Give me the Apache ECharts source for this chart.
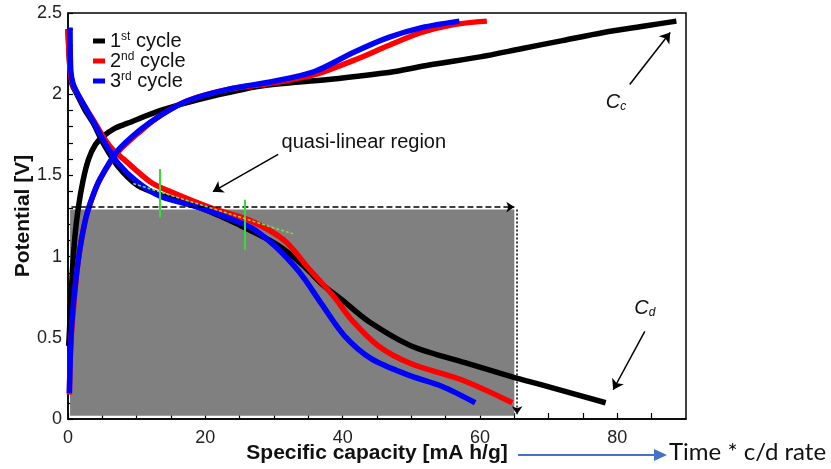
<!DOCTYPE html>
<html><head><meta charset="utf-8">
<script src="https://cdn.jsdelivr.net/npm/echarts@6/dist/echarts.min.js"></script>
<style>html,body{margin:0;padding:0;background:#fff}#c{width:831px;height:469px}</style>
</head><body><div id="c"></div>
<script>
const cycleNames = ['1st cycle', '2nd cycle', '3rd cycle'];
const cycleColors = ['#000000', '#ff0000', '#0000ff'];
const xTickLabels = [0, 20, 40, 60, 80];
const yTickLabels = [0, 0.5, 1, 1.5, 2, 2.5];

const cycle1Charge = [[0.1,0.45],[0.3,0.62],[0.6,0.88],[1.0,1.12],[1.5,1.3],[2.2,1.47],[3.0,1.6],[4.0,1.69],[5.1,1.74],[6.8,1.79],[8.6,1.82],[13.5,1.9],[19.3,1.97],[28.1,2.05],[37.9,2.09],[47.6,2.14],[52.6,2.18],[60,2.23],[66,2.28],[72,2.33],[78,2.38],[84,2.42],[88.6,2.45]];
const cycle1Discharge = [[0,2.4],[0.3,2.15],[0.6,2.06],[1.3,2.0],[2.5,1.9],[3.7,1.82],[5.1,1.7],[7.2,1.56],[10.1,1.44],[13.5,1.38],[19.3,1.3],[24.7,1.2],[30.6,1.07],[34.4,0.94],[37,0.83],[40,0.73],[43.8,0.6],[50,0.45],[58.4,0.34],[64.7,0.26],[69,0.21],[78.3,0.1]];
const cycle2Charge = [[0.2,0.15],[0.4,0.46],[0.8,0.68],[1.5,0.98],[2.5,1.22],[3.5,1.36],[4.7,1.48],[7.2,1.64],[10.5,1.77],[13.5,1.87],[17.4,1.96],[23.3,2.03],[30,2.07],[35.9,2.12],[41.7,2.21],[46.7,2.3],[51.5,2.38],[56.4,2.43],[61,2.45]];
const cycle2Discharge = [[0,2.4],[0.3,2.15],[0.6,2.07],[1.3,2.01],[2.5,1.92],[3.7,1.84],[5.1,1.74],[6.5,1.66],[8.1,1.6],[12,1.46],[14.9,1.4],[20.8,1.3],[26.6,1.22],[31.5,1.1],[35,0.93],[38.8,0.75],[41.3,0.61],[45.2,0.45],[50,0.34],[57.4,0.24],[64.7,0.1]];
const cycle3Charge = [[0.2,0.16],[0.4,0.46],[0.7,0.67],[1.5,0.98],[2.5,1.22],[3.5,1.36],[4.7,1.48],[7.2,1.65],[10.5,1.78],[13.5,1.87],[17.4,1.96],[23.3,2.03],[30,2.08],[35.9,2.14],[41.7,2.26],[46.7,2.35],[51.5,2.41],[57,2.45]];
const cycle3Discharge = [[0.3,2.41],[0.4,2.15],[0.7,2.07],[1.3,2.01],[2.5,1.92],[3.7,1.83],[5.1,1.72],[7.2,1.58],[10.1,1.46],[13.5,1.37],[19.3,1.3],[26.6,1.18],[30,1.07],[33,0.94],[34.5,0.86],[36.9,0.71],[40.3,0.51],[44.2,0.37],[49.6,0.27],[54.5,0.2],[59.3,0.1]];

const cycleData = [[cycle1Charge, cycle1Discharge],[cycle2Charge, cycle2Discharge],[cycle3Charge, cycle3Discharge]];

const chart = echarts.init(document.getElementById('c'), null, {renderer: 'canvas'});
const FONT = 'Liberation Sans, Arial, sans-serif';

const series = [];
series.push({
  type: 'line', name: 'bg', data: [], z: 1, silent: true,
  markArea: {
    silent: true,
    itemStyle: {color: '#808080'},
    data: [[{coord: [0.3, 0.02]}, {coord: [65, 1.29]}]]
  },
  markLine: {
    silent: true, symbol: ['none', 'arrow'], symbolSize: 8,
    label: {show: false},
    data: [
      [{coord: [0.5, 1.305]}, {coord: [65, 1.305], lineStyle: {type: [6, 3], color: '#000', width: 1.5}}],
      [{coord: [65.4, 1.29]}, {coord: [65.4, 0.03], lineStyle: {type: [2, 2], color: '#000', width: 1.5}}]
    ]
  }
});
cycleData.forEach((pair, i) => {
  pair.forEach(d => {
    series.push({
      type: 'line', name: cycleNames[i], data: d, smooth: 0.3, showSymbol: false, z: 2,
      lineStyle: {color: cycleColors[i], width: 5.5},
      itemStyle: {color: cycleColors[i]}
    });
  });
});
const subRich = () => ({
  i: {fontStyle: 'italic', fontSize: 20, fontFamily: FONT, color: '#111'},
  s: {fontStyle: 'italic', fontSize: 12, fontFamily: FONT, color: '#111', verticalAlign: 'bottom', padding: [9, 0, 0, 0]}
});
series.push({
  type: 'line', name: 'fg', data: [], z: 4, silent: true,
  markLine: {
    silent: true, symbol: ['none', 'arrow'], symbolSize: 10,
    label: {show: false},
    lineStyle: {color: '#000', width: 1.5, type: 'solid'},
    data: [
      [{coord: [30.6, 1.63]}, {coord: [21.1, 1.40]}],
      [{coord: [81.8, 2.06]}, {coord: [87.7, 2.38]}],
      [{coord: [84.0, 0.54]}, {coord: [79.4, 0.18]}]
    ]
  },
  markPoint: {
    silent: true, symbol: 'circle', symbolSize: 0,
    data: [
      {coord: [31.1, 1.70], label: {show: true, position: 'right', distance: 0, formatter: 'quasi-linear region', fontSize: 20, color: '#111', fontFamily: FONT}},
      {coord: [79.8, 1.95], label: {show: true, position: 'inside', formatter: '{i|C}{s|c}', rich: subRich()}},
      {coord: [84.0, 0.68], label: {show: true, position: 'inside', formatter: '{i|C}{s|d}', rich: subRich()}}
    ]
  }
});
series.push({
  type: 'line', name: 'green', data: [], z: 5, silent: true,
  markLine: {
    silent: true, symbol: 'none',
    label: {show: false},
    data: [
      [{coord: [13.3, 1.54]}, {coord: [13.3, 1.24], lineStyle: {color: '#33dd33', width: 2, type: 'solid'}}],
      [{coord: [25.8, 1.35]}, {coord: [25.8, 1.04], lineStyle: {color: '#33dd33', width: 2, type: 'solid'}}],
      [{coord: [9.5, 1.45]}, {coord: [32.8, 1.14], lineStyle: {color: '#77dd44', width: 1.5, type: [3, 2]}}]
    ]
  }
});

const isTick = (arr, v) => arr.some(t => Math.abs(t - v) < 1e-6);

chart.setOption({
  animation: false,
  backgroundColor: '#fff',
  grid: {left: 68, right: 145, top: 13, bottom: 46, show: true, borderColor: '#000', borderWidth: 1.5, backgroundColor: 'transparent'},
  legend: {
    data: cycleNames, orient: 'vertical', left: 88, top: 26,
    icon: 'rect', itemWidth: 12, itemHeight: 5, itemGap: 0,
    textStyle: {fontSize: 20, fontFamily: FONT, color: '#111', lineHeight: 20,
      rich: {sup: {fontSize: 12, fontFamily: FONT, color: '#111', verticalAlign: 'top', lineHeight: 20, padding: [0, 0, 7, 0]}}},
    formatter: name => name.replace(/^(\d)(st|nd|rd)/, '$1{sup|$2}'),
    selectedMode: false
  },
  xAxis: {
    type: 'value', min: 0, max: 90, interval: 5,
    name: 'Specific capacity [mA h/g]', nameLocation: 'middle', nameGap: 24, nameMoveOverlap: false,
    nameTextStyle: {fontSize: 21, fontWeight: 'bold', fontFamily: FONT, color: '#111'},
    axisLine: {show: true, lineStyle: {color: '#000', width: 1.5}},
    axisTick: {show: true, inside: true, length: 6, lineStyle: {color: '#000', width: 1.2}},
    axisLabel: {fontSize: 18, fontFamily: FONT, color: '#222', margin: 10, showMaxLabel: false,
      formatter: v => isTick(xTickLabels, v) ? String(Math.round(v)) : ''},
    splitLine: {show: false}
  },
  yAxis: {
    type: 'value', min: 0, max: 2.5, interval: 0.1,
    name: 'Potential [V]', nameLocation: 'middle', nameGap: 34, nameMoveOverlap: false,
    nameTextStyle: {fontSize: 21, fontWeight: 'bold', fontFamily: FONT, color: '#111'},
    axisLine: {show: true, lineStyle: {color: '#000', width: 1.5}},
    axisTick: {show: true, inside: true, length: 5, lineStyle: {color: '#000', width: 1.2}},
    axisLabel: {fontSize: 18, fontFamily: FONT, color: '#222', margin: 6,
      formatter: v => isTick(yTickLabels, v) ? String(Math.round(v * 10) / 10) : ''},
    splitLine: {show: false}
  },
  series: series,
  graphic: [
    {type: 'line', shape: {x1: 518, y1: 455, x2: 656, y2: 455}, style: {stroke: '#4472c4', lineWidth: 2}},
    {type: 'polygon', shape: {points: [[654, 449], [667, 455], [654, 461]]}, style: {fill: '#4472c4'}},
    {type: 'text', left: 669, top: 440, style: {text: 'Time * c/d rate', font: '24px Lato, "Noto Sans", sans-serif', fill: '#111'}}
  ]
});
</script></body></html>
